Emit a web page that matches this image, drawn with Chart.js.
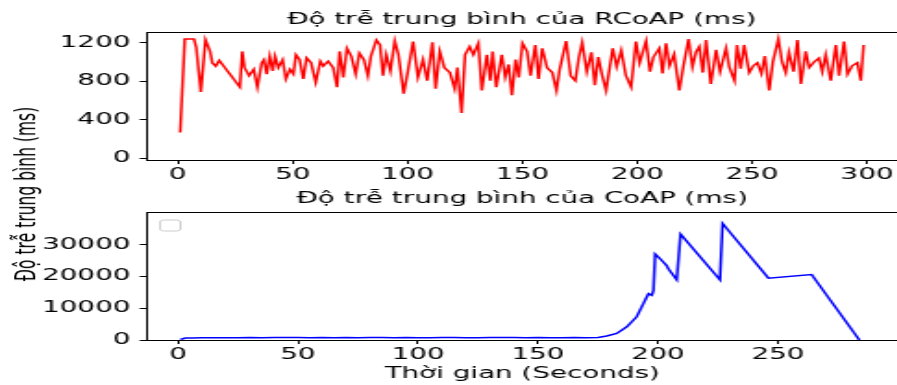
<!DOCTYPE html>
<html>
<head>
<meta charset="utf-8">
<script src="https://cdn.jsdelivr.net/npm/chart.js@4.4.0/dist/chart.umd.min.js"></script>
<style>
  html, body { margin: 0; padding: 0; background: #fff; overflow: hidden; }
  /* hinh goc bi keo gian theo chieu ngang */
  #khung { position: relative; width: 485px; height: 385px; transform: scaleX(1.85); transform-origin: 0 0; }
  #chartTren { position: absolute; left: 0; top: 0; }
  #chartDuoi { position: absolute; left: 0; top: 185px; }
  #nhanY { position: absolute; left: 13.5px; top: 194px; transform: translate(-50%, -50%) rotate(-90deg);
           white-space: nowrap; font: 15.5px "DejaVu Sans"; color: #000; }
</style>
</head>
<body>
<div id="khung">
  <canvas id="chartTren" width="485" height="185"></canvas>
  <canvas id="chartDuoi" width="485" height="200"></canvas>
  <div id="nhanY">Độ trễ trung bình (ms)</div>
</div>
<script>
// RCoAP
const rcoapThoiGian = [1, 3, 7, 8, 10, 12, 14, 15, 16.5, 18, 27, 28, 29, 31, 33, 34.6, 36.5, 37.5, 38.7, 40,
  41.3, 42.3, 43.7, 45.6, 47, 48.8, 50.3, 51.4, 53, 54.6, 56, 58, 60, 62, 63.3, 65.4, 67.6, 69.3, 70.4, 72,
  73.6, 75.5, 77.4, 79, 81, 82.7, 84, 86.4, 88, 89.3, 90.7, 92.5, 94.4, 96, 98.3, 100, 102.4, 104.5, 106.7, 108.5,
  110.8, 112.2, 114, 116, 118.4, 120.5, 121.7, 123.5, 125, 127, 128.6, 130.8, 132.3, 134.5, 136, 137, 138.6, 141, 142.5, 144,
  145.4, 147, 148.4, 150, 152, 153.5, 155.6, 157, 158.6, 160.7, 163, 164.8, 166.2, 169, 171, 173, 174.5, 176, 178, 180,
  181.5, 183, 184.5, 186.4, 189.3, 191, 193, 195, 197.3, 199.4, 201, 203.8, 205.5, 207, 209.6, 211, 212.5, 214, 216, 218.3,
  220, 222.3, 224, 225.5, 227, 228.5, 229.9, 232, 234.3, 236, 238.6, 240, 242.3, 243.4, 245, 246.5, 248.7, 250.5, 252.3, 254,
  255.5, 257.4, 259, 261.4, 263, 264.6, 266, 268, 269.7, 271.2, 273.3, 274.8, 277, 279.1, 280.5, 282, 284.2, 286.4, 287.8, 290,
  291.5, 293.5, 295.8, 297.3, 298.5];
const rcoapDoTre = [270, 1237, 1237, 1150, 690, 1230, 1110, 990, 957, 1015, 739, 1109, 941, 857, 924, 739, 991, 1024, 874, 1058,
  907, 1058, 941, 1024, 823, 924, 874, 1075, 1024, 823, 1041, 991, 789, 1008, 957, 1008, 941, 739, 1109, 840,
  1142, 1058, 874, 1092, 1024, 857, 1058, 1226, 1176, 857, 1075, 907, 1216, 1075, 672, 890, 1210, 840, 1024, 806,
  1203, 722, 1109, 941, 890, 722, 941, 471, 1075, 1159, 1075, 1193, 705, 1075, 806, 1109, 739, 1075, 840, 974,
  655, 1024, 840, 1193, 1109, 857, 1176, 823, 1142, 941, 890, 705, 924, 1216, 857, 806, 1041, 1200, 900, 1100,
  760, 1050, 880, 705, 1142, 950, 1120, 860, 739, 1210, 990, 1216, 900, 1050, 1142, 880, 1193, 960, 1080, 705,
  950, 1237, 950, 1100, 1159, 890, 1227, 773, 1125, 900, 1142, 950, 806, 1176, 930, 1176, 890, 960, 991, 880,
  1060, 705, 1000, 1237, 1000, 890, 1100, 900, 1227, 773, 1109, 941, 1000, 1041, 900, 1075, 806, 1176, 857, 1210,
  874, 960, 991, 806, 1176];

// CoAP
const coapThoiGian = [1, 3, 6, 10, 15, 20, 25, 30, 35, 40, 45, 50, 55, 60, 65, 70, 75, 80, 85, 90,
  95, 100, 105, 110, 115, 120, 125, 130, 135, 140, 145, 150, 155, 160, 165, 170, 175, 178.6, 182.8, 187,
  191.1, 193.9, 196, 197.4, 198.1, 198.8, 201, 203.6, 204.3, 207.8, 209.4, 225.8, 226.9, 246, 264, 283.9];
const coapDoTre = [150, 620, 650, 700, 680, 720, 700, 760, 720, 800, 750, 820, 700, 760, 720, 780, 700, 760, 820, 700,
  780, 720, 700, 760, 800, 740, 700, 760, 820, 760, 700, 800, 720, 680, 760, 700, 820, 1250, 2080, 4170,
  7300, 11460, 14580, 14060, 15600, 27080, 25500, 23440, 22400, 18960, 33330, 18960, 36670, 19480, 20630, 0];

// Vach chia
const xTicksTren = [0, 50, 100, 150, 200, 250, 300];
const yTicksTren = [0, 400, 800, 1200];
const xTicksDuoi = [0, 50, 100, 150, 200, 250];
const yTicksDuoi = [0, 10000, 20000, 30000];

Chart.defaults.font.family = 'DejaVu Sans';
Chart.defaults.font.size = 15;
Chart.defaults.color = '#000';

function ganTicks(list) {
  return function (scale) {
    scale.ticks = list.map(function (v) { return { value: v }; });
  };
}

// khong dung dau phay ngan cach hang nghin
function nhanSo(v) { return String(v); }

function trucX(min, max, ticks, chieuCao, tieuDe) {
  return {
    type: 'linear', position: 'bottom', min: min, max: max,
    afterBuildTicks: ganTicks(ticks),
    afterFit: function (s) { s.height = chieuCao; },
    grid: { drawOnChartArea: false, drawTicks: true, tickLength: 4, color: '#000' },
    border: { color: '#000', width: 1 },
    ticks: { padding: 2, maxRotation: 0, autoSkip: false, callback: nhanSo },
    title: tieuDe ? { display: true, text: tieuDe, padding: { top: 0, bottom: 2 } } : { display: false }
  };
}

function trucY(min, max, ticks) {
  return {
    type: 'linear', min: min, max: max,
    afterBuildTicks: ganTicks(ticks),
    afterFit: function (s) { s.width = 79.5; },
    grid: { drawOnChartArea: false, drawTicks: true, tickLength: 4, color: '#000' },
    border: { color: '#000', width: 1 },
    ticks: { padding: 5, callback: nhanSo }
  };
}

// vien tren cua khung
const trucTren = {
  type: 'linear', position: 'top',
  afterFit: function (s) { s.height = 0; },
  grid: { display: false },
  border: { color: '#000', width: 1 },
  ticks: { display: false }
};

// o chu giai rong (goc tren trai)
const chuGiaiRong = {
  id: 'chuGiaiRong',
  afterDraw: function (chart) {
    const ctx = chart.ctx, a = chart.chartArea;
    ctx.save();
    ctx.strokeStyle = '#cccccc';
    ctx.lineWidth = 1;
    ctx.beginPath();
    ctx.roundRect(a.left + 7, a.top + 8, 11, 11, 2);
    ctx.stroke();
    ctx.restore();
  }
};

function ChartRCoAP() {
  const ctx = document.getElementById('chartTren');
  const data = {
    datasets: [{
      data: rcoapThoiGian.map(function (t, i) { return { x: t, y: rcoapDoTre[i] }; }),
      borderColor: '#ff0000', borderWidth: 1.5, pointRadius: 0, tension: 0, xAxisID: 'x', yAxisID: 'y'
    }]
  };
  new Chart(ctx, {
    type: 'line',
    data: data,
    options: {
      responsive: false, animation: false,
      layout: { padding: 0 },
      plugins: {
        legend: { display: false }, tooltip: { enabled: false },
        title: { display: true, text: 'Độ trễ trung bình của RCoAP (ms)', fullSize: false,
                 font: { size: 15, weight: 'normal' }, padding: { top: 11, bottom: 3 } }
      },
      scales: {
        x: trucX(-13.4, 312.7, xTicksTren, 25, null),
        xTop: trucTren,
        y: trucY(-15, 1310, yTicksTren)
      }
    }
  });
}

function ChartCoAP() {
  const ctx = document.getElementById('chartDuoi');
  const data = {
    datasets: [{
      data: coapThoiGian.map(function (t, i) { return { x: t, y: coapDoTre[i] }; }),
      borderColor: '#0000ff', borderWidth: 1.5, pointRadius: 0, tension: 0, xAxisID: 'x', yAxisID: 'y'
    }]
  };
  new Chart(ctx, {
    type: 'line',
    data: data,
    options: {
      responsive: false, animation: false,
      layout: { padding: 0 },
      plugins: {
        legend: { display: false }, tooltip: { enabled: false },
        title: { display: true, text: 'Độ trễ trung bình của CoAP (ms)', fullSize: false,
                 font: { size: 15, weight: 'normal' }, padding: { top: 5, bottom: 4 } }
      },
      scales: {
        x: trucX(-12.9, 299.7, xTicksDuoi, 45, 'Thời gian (Seconds)'),
        xTop: trucTren,
        y: trucY(0, 40300, yTicksDuoi)
      }
    },
    plugins: [chuGiaiRong]
  });
}

ChartRCoAP();
ChartCoAP();
</script>
</body>
</html>
